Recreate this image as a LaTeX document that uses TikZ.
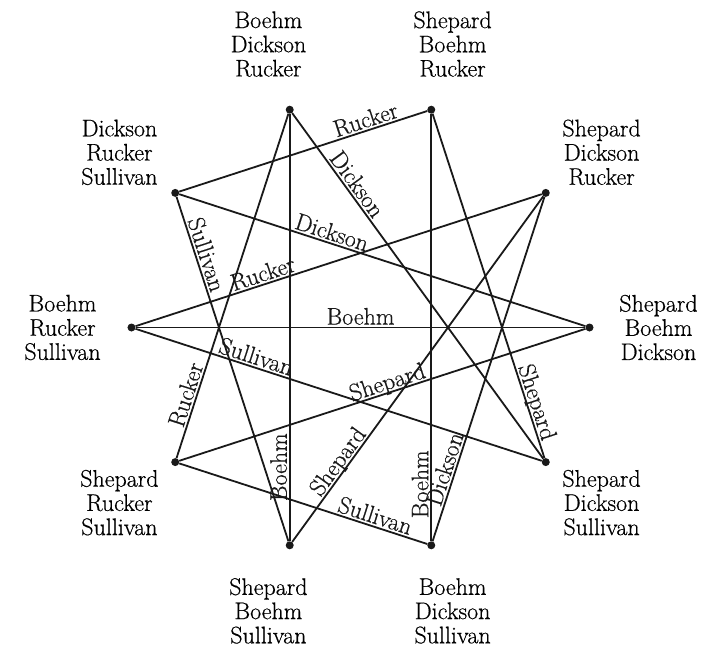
\documentclass[tikz,border=0pt]{standalone}
\usepackage{fontspec}
\setmainfont{Latin Modern Roman}[FakeBold=0.5]
\begin{document}
\begin{tikzpicture}[
  vdot/.style={circle,fill=black!90,inner sep=0pt,minimum size=8pt},
  vlab/.style={align=center,font=\fontsize{24}{24.2}\selectfont,inner sep=0pt},
  elab/.style={sloped,anchor=south,text depth=0pt,inner sep=2pt,font=\fontsize{24}{24}\selectfont},
  conn/.style={line width=1.8pt,black!90}
]
\useasboundingbox (-360.5pt,-321.5pt) rectangle (348.5pt,327.5pt);
% vertices
\foreach \k in {0,...,9} {
  \node[vdot] (v\k) at ({36*\k}:229pt) {};
}
% vertex labels
\node[vlab] (l0) at (0:298pt)   {Shepard\\Boehm\\Dickson};
\node[vlab] (l1) at (36:298pt)  {Shepard\\Dickson\\Rucker};
\node[vlab] (l2) at (72:298pt)  {Shepard\\Boehm\\Rucker};
\node[vlab] (l3) at (108:298pt) {Boehm\\Dickson\\Rucker};
\node[vlab] (l4) at (144:298pt) {Dickson\\Rucker\\Sullivan};
\node[vlab] (l5) at (180:298pt) {Boehm\\Rucker\\Sullivan};
\node[vlab] (l6) at (216:298pt) {Shepard\\Rucker\\Sullivan};
\node[vlab] (l7) at (252:298pt) {Shepard\\Boehm\\Sullivan};
\node[vlab] (l8) at (288:298pt) {Boehm\\Dickson\\Sullivan};
\node[vlab] (l9) at (324:298pt) {Shepard\\Dickson\\Sullivan};
% edges
\draw[conn] (v4) -- node[elab,pos=0.765]{Rucker} (v2);
\draw[conn] (v3) -- node[elab,pos=0.224]{Dickson} (v9);
\draw[conn] (v4) -- node[elab,pos=0.368]{Dickson} (v0);
\draw[conn] (v4) -- node[elab,pos=0.177]{Sullivan} (v7);
\draw[conn] (v5) -- node[elab,pos=0.322]{Rucker} (v1);
\draw[conn] (v5) -- node[elab,pos=0.5]{Boehm} (v0);
\draw[conn] (v5) -- node[elab,pos=0.289]{Sullivan} (v9);
\draw[conn] (v6) -- node[elab,pos=0.52]{Shepard} (v0);
\draw[conn] (v6) -- node[elab,pos=0.175]{Rucker} (v3);
\draw[conn] (v2) -- node[elab,pos=0.847]{Shepard} (v9);
\draw[conn] (v7) -- node[elab,pos=0.173]{Boehm} (v3);
\draw[conn] (v7) -- node[elab,pos=0.215]{Shepard} (v1);
\draw[conn] (v6) -- node[elab,pos=0.777]{Sullivan} (v8);
\draw[conn] (v8) -- node[elab,pos=0.133]{Boehm} (v2);
\draw[conn] (v8) -- node[elab,pos=0.2]{Dickson} (v1);
\end{tikzpicture}
\end{document}
